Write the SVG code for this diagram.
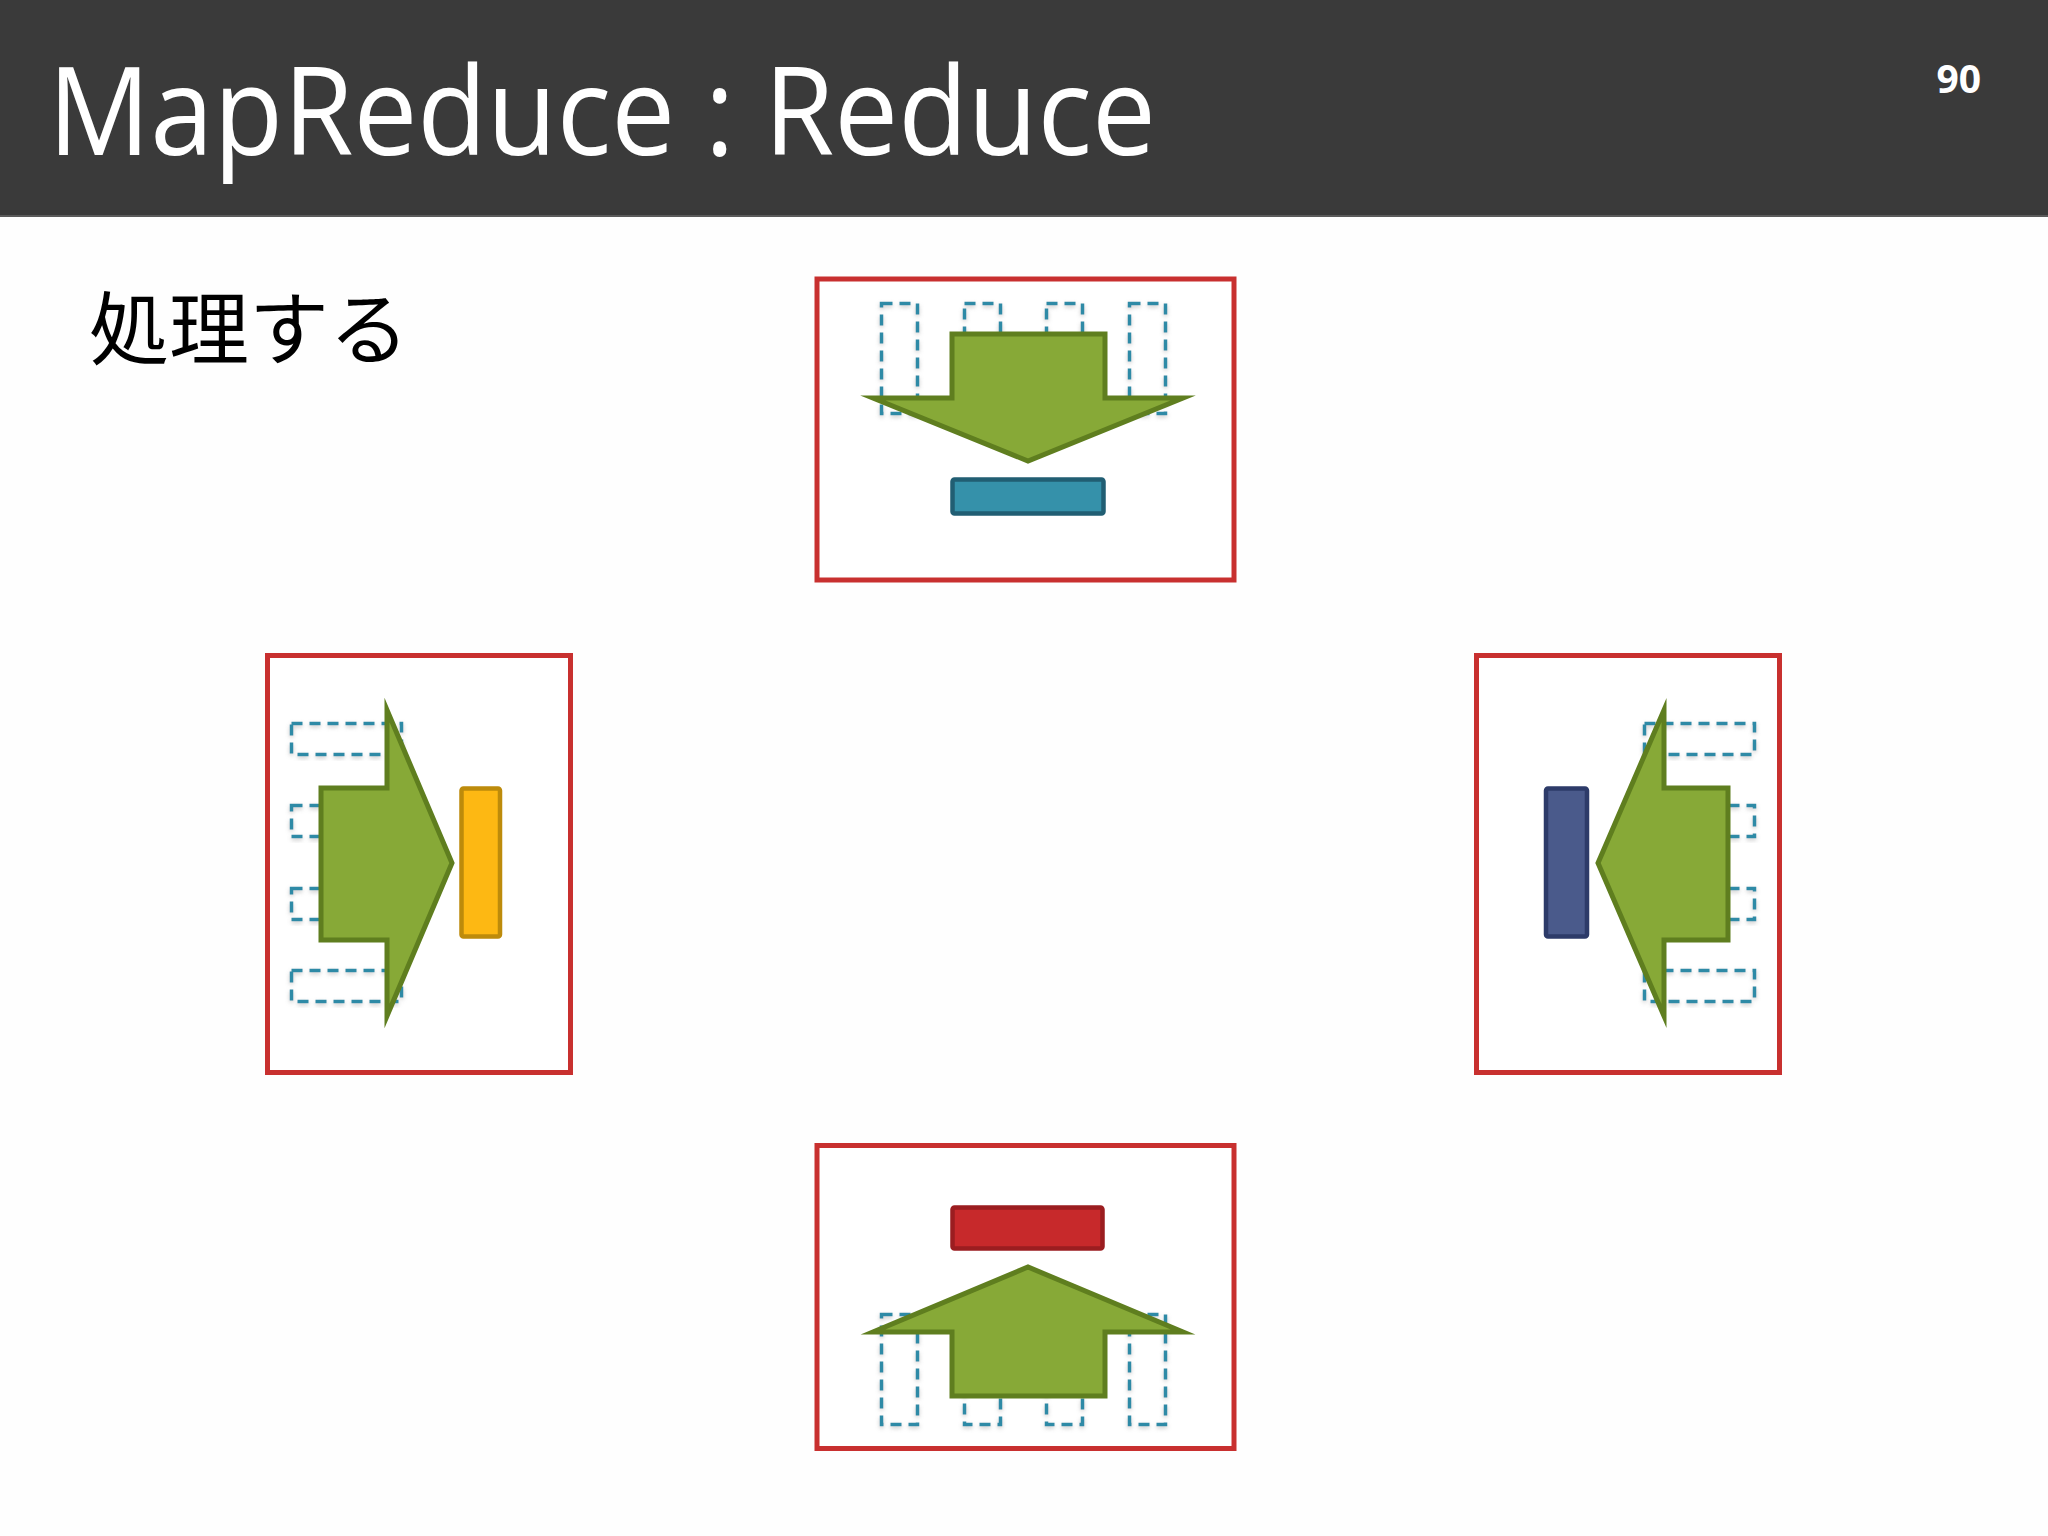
<svg xmlns="http://www.w3.org/2000/svg" width="2048" height="1536" viewBox="0 0 2048 1536">
<defs>
<style>
.frame{fill:#fff;stroke:#c8302f;stroke-width:5}
.dash{fill:none;stroke:#2f8aa6;stroke-width:3.5;stroke-dasharray:11 7;filter:url(#sh)}
.arrow{fill:#87a937;stroke:#5f7e1f;stroke-width:5;stroke-linejoin:miter;stroke-miterlimit:12}
.title{font-family:"Open Sans","Noto Sans","DejaVu Sans",sans-serif;fill:#fff}
</style>
<filter id="sh" x="-20%" y="-20%" width="140%" height="140%">
<feDropShadow dx="0" dy="2" stdDeviation="2" flood-color="#888" flood-opacity="0.45"/>
</filter>
</defs>
<rect x="0" y="0" width="2048" height="1536" fill="#fefefe"/>
<g id="header">
<rect x="0" y="0" width="2048" height="216" fill="#3a3a3a"/>
<rect x="0" y="215" width="2048" height="2" fill="#5a5a5a"/>
<text class="title" x="48" y="155" font-size="122" textLength="1108" lengthAdjust="spacingAndGlyphs">MapReduce : Reduce</text>
<text class="title" x="1981" y="93" font-size="39" font-weight="bold" text-anchor="end">90</text>
</g>
<g id="subtitle">
<text x="89" y="358" font-family="'Noto Sans CJK JP',sans-serif" font-size="80" fill="#000">処理する</text>
</g>
<g id="node-top">
<rect class="frame" x="817" y="279" width="417" height="301"/>
<rect class="dash" x="881.5" y="303.5" width="36" height="110"/>
<rect class="dash" x="964.5" y="303.5" width="36" height="80"/>
<rect class="dash" x="1046.5" y="303.5" width="36" height="80"/>
<rect class="dash" x="1129.5" y="303.5" width="36" height="110"/>
<polygon class="arrow" points="952,334 1105,334 1105,398 1183,398 1028,461 873,398 952,398"/>
<rect x="952.5" y="479.5" width="151" height="34" rx="2" fill="#3591aa" stroke="#215e73" stroke-width="4.5"/>
</g>
<g id="node-left">
<rect class="frame" x="267.5" y="655.5" width="303" height="417"/>
<rect class="dash" x="291.5" y="723.5" width="110" height="31"/>
<rect class="dash" x="291.5" y="805.5" width="80" height="31"/>
<rect class="dash" x="291.5" y="888.5" width="80" height="31"/>
<rect class="dash" x="291.5" y="970.5" width="110" height="31"/>
<polygon class="arrow" points="321,788 387,788 387,710 452,863 387,1016 387,940 321,940"/>
<rect x="461.5" y="788.5" width="38.5" height="148" rx="2" fill="#fdb813" stroke="#bd8b0b" stroke-width="4.5"/>
</g>
<g id="node-right">
<rect class="frame" x="1476.5" y="655.5" width="303" height="417"/>
<rect class="dash" x="1644.5" y="723.5" width="110" height="31"/>
<rect class="dash" x="1674.5" y="805.5" width="80" height="31"/>
<rect class="dash" x="1674.5" y="888.5" width="80" height="31"/>
<rect class="dash" x="1644.5" y="970.5" width="110" height="31"/>
<polygon class="arrow" points="1728,788 1664,788 1664,710 1598,863 1664,1016 1664,940 1728,940"/>
<rect x="1546" y="788.5" width="41" height="148" rx="2" fill="#4a5a8b" stroke="#2d3b69" stroke-width="4.5"/>
</g>
<g id="node-bottom">
<rect class="frame" x="817" y="1145.5" width="417" height="303"/>
<rect class="dash" x="881.5" y="1314.5" width="36" height="110"/>
<rect class="dash" x="964.5" y="1344.5" width="36" height="80"/>
<rect class="dash" x="1046.5" y="1344.5" width="36" height="80"/>
<rect class="dash" x="1129.5" y="1314.5" width="36" height="110"/>
<polygon class="arrow" points="952,1396 952,1332 873,1332 1028,1267 1183,1332 1105,1332 1105,1396"/>
<rect x="952.5" y="1207.5" width="150" height="41" rx="2" fill="#c7292b" stroke="#9b1d20" stroke-width="4.5"/>
</g>
<g id="connectors"></g>
</svg>
